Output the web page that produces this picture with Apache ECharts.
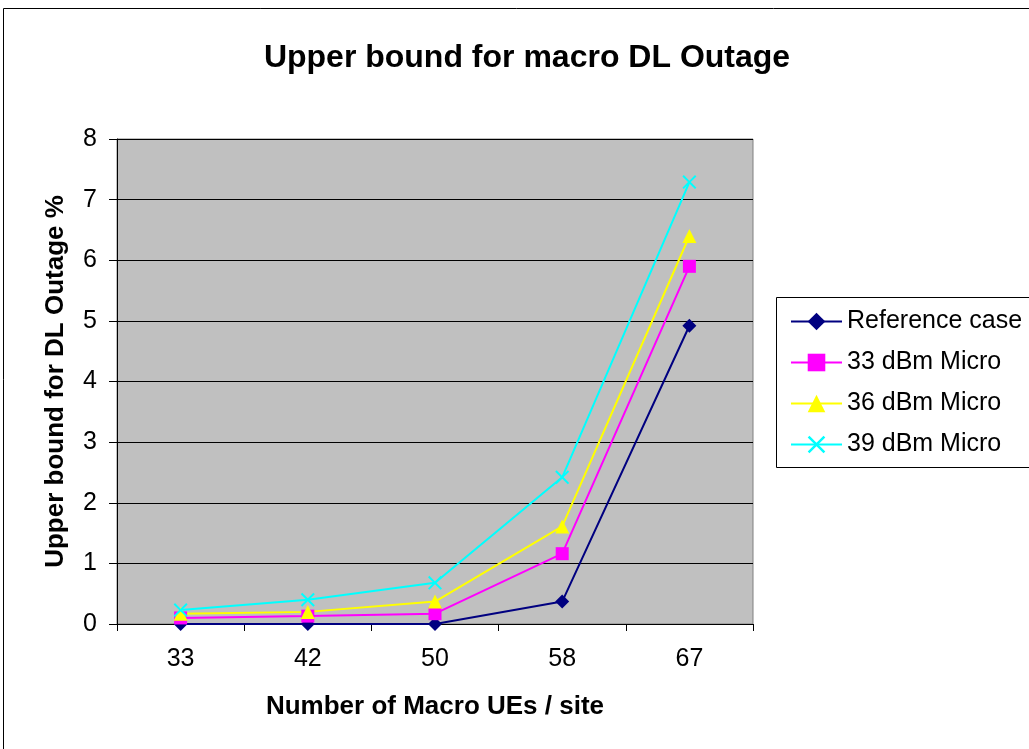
<!DOCTYPE html>
<html>
<head>
<meta charset="utf-8">
<script src="https://cdn.jsdelivr.net/npm/echarts@6/dist/echarts.min.js"></script>
<style>
html,body{margin:0;padding:0;background:#fff;}
#chart{width:1029px;height:749px;}
</style>
</head>
<body>
<div id="chart"></div>
<script>
const categories = ['33', '42', '50', '58', '67'];
const referenceCase = [0.0, 0.0, 0.0, 0.37, 4.92];
const micro33 = [0.10, 0.13, 0.17, 1.16, 5.90];
const micro36 = [0.17, 0.20, 0.37, 1.61, 6.40];
const micro39 = [0.23, 0.40, 0.68, 2.42, 7.29];
const yTicks = { min: 0, max: 8, interval: 1 };

const xPath = 'path://M0,1 L1,0 L5,4 L9,0 L10,1 L6,5 L10,9 L9,10 L5,6 L1,10 L0,9 L4,5 Z';
const font = 'Arial, "Liberation Sans", sans-serif';

const chart = echarts.init(document.getElementById('chart'), null, {renderer: 'canvas'});
function mk(name, data, color, symbol, size) {
  return {
    name, type: 'line', data, symbol, symbolSize: size,
    lineStyle: {color, width: 2},
    itemStyle: {color, borderColor: color, borderWidth: 0},
    emphasis: {disabled: true},
    animation: false
  };
}
chart.setOption({
  animation: false,
  backgroundColor: '#ffffff',
  title: {
    text: 'Upper bound for macro DL Outage',
    left: 522, top: 37, textAlign: 'center',
    textStyle: {fontFamily: font, fontSize: 32, fontWeight: 'bold', color: '#000'}
  },
  graphic: [
    {type: 'rect', shape: {x: 3.5, y: 8.5, width: 1200, height: 1000}, style: {fill: 'none', stroke: '#000', lineWidth: 1}, z: -1},
    {type: 'rect', shape: {x: 776.5, y: 297.5, width: 400, height: 170}, style: {fill: '#fff', stroke: '#000', lineWidth: 1}, z: 0}
  ],
  legend: {
    orient: 'vertical',
    left: 785, top: 304,
    itemWidth: 51, itemHeight: 22, itemGap: 16,
    textStyle: {fontFamily: font, fontSize: 25, color: '#000'},
    data: ['Reference case', '33 dBm Micro', '36 dBm Micro', '39 dBm Micro'],
    z: 5
  },
  grid: {left: 117, right: 276, top: 139, bottom: 125, show: true, backgroundColor: '#C0C0C0', borderColor: '#808080', borderWidth: 1},
  xAxis: {
    type: 'category', data: categories, boundaryGap: true,
    name: 'Number of Macro UEs / site', nameLocation: 'middle', nameGap: 70,
    nameTextStyle: {fontFamily: font, fontSize: 26, fontWeight: 'bold', color: '#000'},
    axisLine: {lineStyle: {color: '#000', width: 1}},
    axisTick: {show: true, length: 7, alignWithLabel: false, lineStyle: {color: '#000'}},
    axisLabel: {fontFamily: font, fontSize: 25, color: '#000', margin: 23}
  },
  yAxis: {
    type: 'value', min: yTicks.min, max: yTicks.max, interval: yTicks.interval,
    name: 'Upper bound for DL Outage %', nameLocation: 'middle', nameGap: 48, nameRotate: 90,
    nameTextStyle: {fontFamily: font, fontSize: 26, fontWeight: 'bold', color: '#000'},
    axisLine: {show: true, lineStyle: {color: '#000', width: 1}},
    axisTick: {show: true, length: 8, lineStyle: {color: '#000'}},
    axisLabel: {fontFamily: font, fontSize: 25, color: '#000', margin: 20},
    splitLine: {show: true, lineStyle: {color: '#000', width: 1}}
  },
  series: [
    mk('Reference case', referenceCase, '#000080', 'diamond', 14),
    mk('33 dBm Micro', micro33, '#FF00FF', 'rect', 13),
    mk('36 dBm Micro', micro36, '#FFFF00', 'triangle', 14),
    mk('39 dBm Micro', micro39, '#00FFFF', xPath, 14)
  ]
});
</script>
</body>
</html>
